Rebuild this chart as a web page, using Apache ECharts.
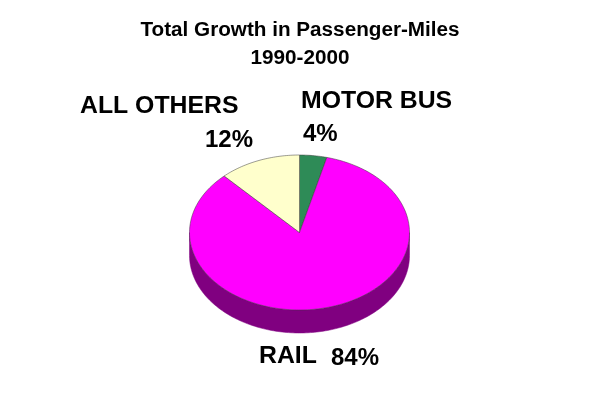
<!DOCTYPE html>
<html>
<head>
<meta charset="utf-8">
<style>html,body{margin:0;padding:0;background:#fff}#c{width:600px;height:410px}</style>
<script src="https://cdn.jsdelivr.net/npm/echarts@6/dist/echarts.min.js"></script>
</head>
<body>
<div id="c"></div>
<script>
const titleLines = ['Total Growth in Passenger-Miles', '1990-2000'];
const categories = ['MOTOR BUS', 'RAIL', 'ALL OTHERS'];
const shares = [4, 84, 12];
const topColors = ['#2E8B57', '#FF00FF', '#FFFFCC'];
const sideColors = ['#17573A', '#800080', '#99997A'];

// pie drawing geometry (pixels)
const CX = 299.5, CY = 232.5, RX = 110, RY = 77.5, DEPTH = 23;
// label anchors: [name x, name y, percent x, percent y]
const labelPos = [
  [301, 101, 303, 134],
  [259, 356, 331, 358],
  [80, 106, 205, 140]
];
const total = shares.reduce((a, b) => a + b, 0);

function pt(a, dy) {
  return [CX + RX * Math.sin(a), CY + (dy || 0) - RY * Math.cos(a)];
}
function arcPts(a0, a1, dy) {
  const n = Math.max(2, Math.ceil(Math.abs(a1 - a0) / 0.02));
  const out = [];
  for (let i = 0; i <= n; i++) out.push(pt(a0 + (a1 - a0) * i / n, dy));
  return out;
}
function startAngle(idx) {
  let s = 0;
  for (let i = 0; i < idx; i++) s += shares[i];
  return s / total * 2 * Math.PI;
}
function txt(text, x, y, size) {
  return {
    type: 'text', silent: true,
    style: { text, x, y, fill: '#000', textAlign: 'left', textVerticalAlign: 'middle',
             font: 'bold ' + size + 'px "Liberation Sans", Arial, sans-serif' }
  };
}

function renderItem(params, api) {
  const i = params.dataIndex;
  const a0 = startAngle(i);
  const a1 = a0 + api.value(1) / total * 2 * Math.PI;
  const children = [];
  // visible side wall is the front half of the pie (pi/2 .. 3pi/2)
  const s0 = Math.max(a0, Math.PI / 2), s1 = Math.min(a1, 1.5 * Math.PI);
  if (s1 > s0) {
    children.push({
      type: 'polygon',
      shape: { points: arcPts(s0, s1, 0).concat(arcPts(s1, s0, DEPTH)) },
      style: { fill: sideColors[i], stroke: sideColors[i], lineWidth: 0.5 }
    });
  }
  children.push({
    type: 'polygon',
    shape: { points: [[CX, CY]].concat(arcPts(a0, a1, 0)) },
    style: { fill: topColors[i], stroke: '#3a3a3a', lineWidth: 0.5 }
  });
  const p = labelPos[i];
  children.push(txt(categories[i], p[0], p[1], 24.8));
  children.push(txt(api.value(1) + '%', p[2], p[3], 24));
  return { type: 'group', children };
}

const chart = echarts.init(document.getElementById('c'), null, { renderer: 'canvas' });
chart.setOption({
  animation: false,
  backgroundColor: '#fff',
  title: {
    text: titleLines.join('\n'),
    left: 'center',
    top: 11,
    textStyle: { fontFamily: '"Liberation Sans", Arial, sans-serif', fontWeight: 'bold',
                 fontSize: 20.7, lineHeight: 28, color: '#000' }
  },
  series: [{
    type: 'custom',
    coordinateSystem: 'none',
    renderItem,
    data: categories.map((c, i) => [i, shares[i]])
  }]
});
</script>
</body>
</html>
